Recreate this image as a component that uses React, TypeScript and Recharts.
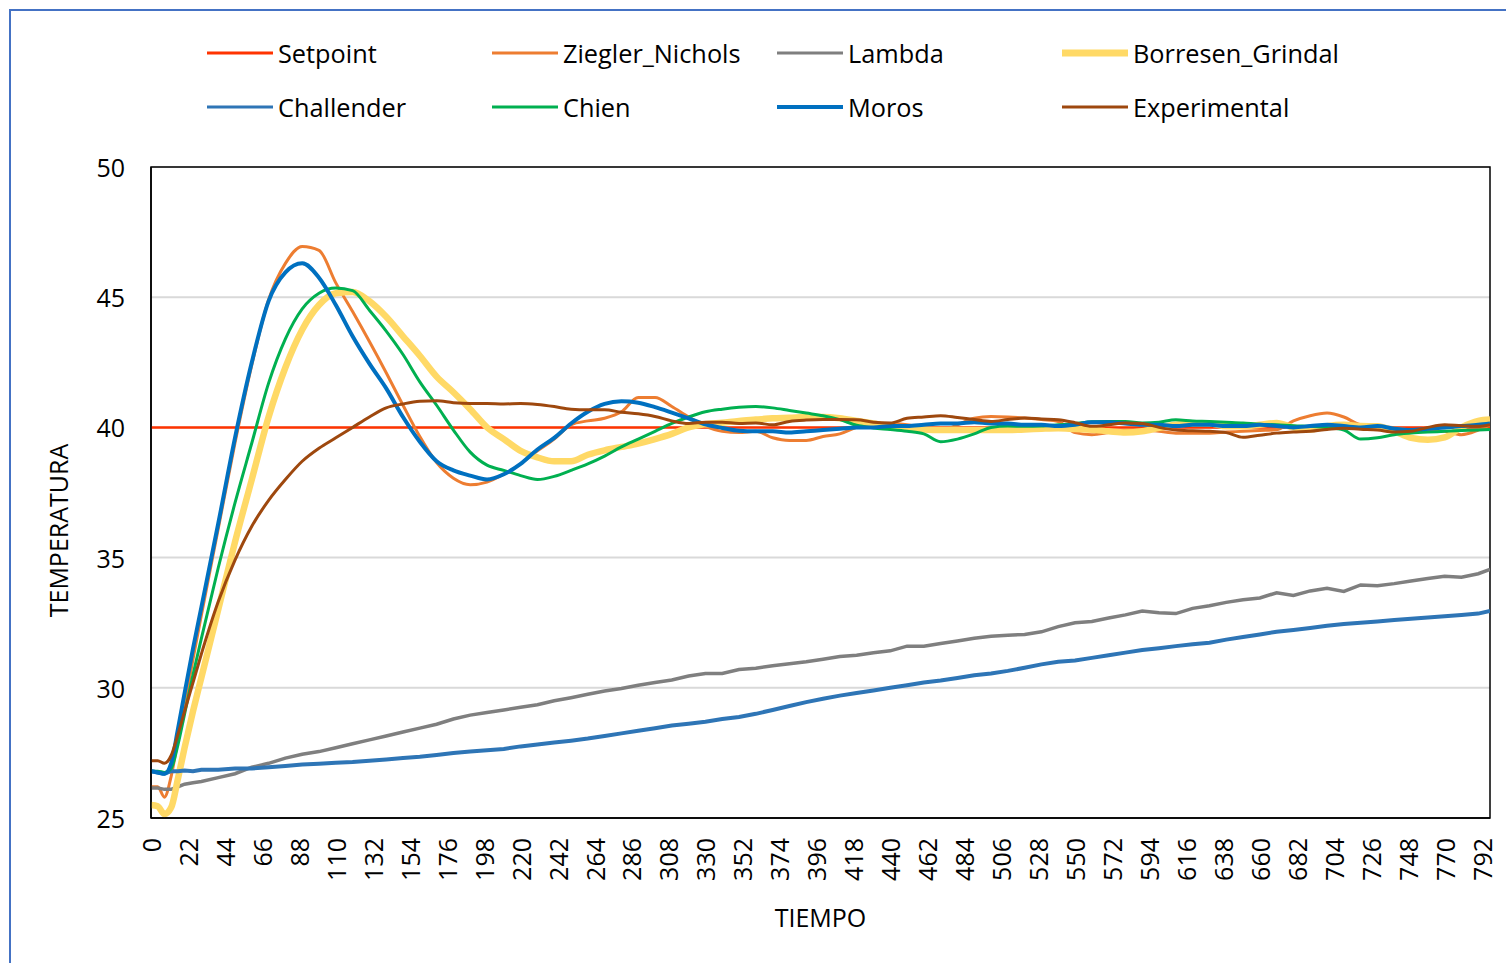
import React from 'react';
import { LineChart, Line, XAxis, YAxis, CartesianGrid, Legend, ReferenceArea } from 'recharts';

// ---------- DATA ----------
const times = [0, 4, 8, 12, 16, 20, 25, 30,
  40, 50, 60, 70, 80, 90, 100, 110, 120, 130,
  140, 150, 160, 170, 180, 190, 200, 210, 220, 230,
  240, 250, 260, 270, 280, 290, 300, 310, 320, 330,
  340, 350, 360, 370, 380, 390, 400, 410, 420, 430,
  440, 450, 460, 470, 480, 490, 500, 510, 520, 530,
  540, 550, 560, 570, 580, 590, 600, 610, 620, 630,
  640, 650, 660, 670, 680, 690, 700, 710, 720, 730,
  740, 750, 760, 770, 780, 790, 797];

const setpointTimes = [0, 797];
const setpointValues = [40, 40];

const zieglerNichols = [26.2, 26.2, 25.8, 26.6, 28.0, 29.3, 31.1, 32.8,
  36.1, 39.4, 42.4, 44.9, 46.3, 46.95, 46.8, 45.55, 44.45, 43.3,
  42.1, 40.85, 39.65, 38.65, 38.05, 37.8, 37.9, 38.2, 38.6, 39.1,
  39.55, 40.1, 40.25, 40.35, 40.6, 41.15, 41.15, 40.8, 40.4, 40.05,
  39.85, 39.8, 39.85, 39.6, 39.5, 39.5, 39.65, 39.75, 40.0, 40.1,
  40.15, 40.1, 39.97, 39.85, 40.1, 40.35, 40.42, 40.4, 40.36, 40.3,
  40.23, 39.8, 39.72, 39.8, 39.9, 39.91, 39.85, 39.78, 39.78, 39.78,
  39.82, 39.85, 39.88, 39.91, 40.25, 40.45, 40.55, 40.4, 40.1, 40.04,
  39.98, 39.9, 39.88, 39.85, 39.72, 39.9, 40.1];

const lambda = [26.15, 26.15, 26.1, 26.1, 26.2, 26.3, 26.35, 26.4,
  26.55, 26.7, 26.95, 27.1, 27.3, 27.45, 27.55, 27.7, 27.85, 28.0,
  28.15, 28.3, 28.45, 28.6, 28.8, 28.95, 29.05, 29.15, 29.25, 29.35,
  29.5, 29.62, 29.75, 29.88, 29.97, 30.1, 30.2, 30.3, 30.45, 30.55,
  30.55, 30.7, 30.75, 30.85, 30.92, 31.0, 31.1, 31.2, 31.25, 31.35,
  31.42, 31.6, 31.6, 31.7, 31.8, 31.9, 31.98, 32.02, 32.05, 32.15,
  32.35, 32.5, 32.55, 32.68, 32.8, 32.95, 32.88, 32.85, 33.05, 33.15,
  33.28, 33.38, 33.45, 33.65, 33.55, 33.72, 33.82, 33.7, 33.95, 33.92,
  34.0, 34.1, 34.2, 34.28, 34.25, 34.38, 34.55];

const borresenGrindal = [25.5, 25.45, 25.15, 25.4, 26.5, 27.7, 29.1, 30.4,
  33.0, 35.6, 38.0, 40.4, 42.3, 43.75, 44.7, 45.15, 45.2, 44.85,
  44.25, 43.5, 42.75, 41.95, 41.35, 40.7, 40.0, 39.55, 39.1, 38.85,
  38.7, 38.7, 38.95, 39.12, 39.25, 39.38, 39.55, 39.75, 40.0, 40.12,
  40.18, 40.25, 40.3, 40.35, 40.37, 40.4, 40.4, 40.35, 40.25, 40.15,
  40.05, 39.97, 39.92, 39.9, 39.9, 39.9, 39.9, 39.9, 39.92, 39.95,
  39.97, 39.94, 39.91, 39.85, 39.8, 39.85, 39.98, 40.1, 40.15, 40.15,
  40.04, 40.04, 40.1, 40.17, 40.0, 39.92, 40.05, 40.1, 40.05, 40.04,
  39.85, 39.6, 39.53, 39.62, 40.0, 40.25, 40.3];

const challender = [26.8, 26.75, 26.7, 26.8, 26.8, 26.82, 26.8, 26.85,
  26.85, 26.9, 26.9, 26.95, 27.0, 27.05, 27.08, 27.12, 27.15, 27.2,
  27.25, 27.3, 27.35, 27.42, 27.5, 27.55, 27.6, 27.65, 27.75, 27.82,
  27.9, 27.97, 28.05, 28.15, 28.25, 28.35, 28.45, 28.55, 28.62, 28.7,
  28.8, 28.88, 29.0, 29.15, 29.3, 29.45, 29.58, 29.7, 29.8, 29.9,
  30.0, 30.1, 30.2, 30.28, 30.38, 30.48, 30.55, 30.65, 30.77, 30.9,
  31.0, 31.05, 31.15, 31.25, 31.35, 31.45, 31.52, 31.6, 31.67, 31.73,
  31.85, 31.95, 32.05, 32.15, 32.22, 32.3, 32.38, 32.45, 32.5, 32.55,
  32.6, 32.65, 32.7, 32.75, 32.8, 32.85, 32.95];

const chien = [26.8, 26.8, 26.75, 26.9, 27.8, 29.0, 30.5, 31.9,
  34.6, 37.1, 39.4, 41.7, 43.4, 44.55, 45.15, 45.35, 45.25, 44.5,
  43.7, 42.8, 41.75, 40.85, 39.9, 39.05, 38.55, 38.35, 38.15, 38.0,
  38.12, 38.35, 38.6, 38.9, 39.25, 39.55, 39.85, 40.15, 40.4, 40.6,
  40.7, 40.77, 40.8, 40.75, 40.65, 40.55, 40.45, 40.3, 40.08, 39.98,
  39.92, 39.85, 39.75, 39.45, 39.55, 39.75, 40.0, 40.05, 40.04, 40.05,
  40.1, 40.15, 40.22, 40.23, 40.23, 40.17, 40.2, 40.29, 40.25, 40.23,
  40.2, 40.17, 40.12, 40.1, 40.06, 40.04, 40.0, 39.9, 39.55, 39.6,
  39.72, 39.78, 39.82, 39.85, 39.88, 39.9, 39.92];

const moros = [26.8, 26.75, 26.7, 27.1, 28.4, 29.8, 31.5, 33.1,
  36.3, 39.6, 42.5, 44.85, 45.95, 46.3, 45.75, 44.7, 43.5, 42.45,
  41.5, 40.4, 39.45, 38.7, 38.35, 38.15, 38.0, 38.2, 38.6, 39.15,
  39.6, 40.15, 40.6, 40.9, 41.0, 40.95, 40.78, 40.57, 40.35, 40.12,
  39.98, 39.87, 39.85, 39.85, 39.8, 39.85, 39.9, 39.95, 40.0, 40.0,
  40.05, 40.05, 40.1, 40.15, 40.15, 40.2, 40.15, 40.15, 40.1, 40.1,
  40.05, 40.1, 40.2, 40.2, 40.15, 40.1, 40.1, 40.05, 40.1, 40.1,
  40.05, 40.05, 40.1, 40.05, 40.0, 40.05, 40.1, 40.05, 40.0, 40.05,
  39.95, 39.9, 39.95, 40.0, 40.05, 40.1, 40.15];

const experimental = [27.2, 27.2, 27.1, 27.4, 28.2, 29.1, 30.2, 31.3,
  33.3, 34.9, 36.2, 37.2, 38.0, 38.7, 39.2, 39.6, 40.0, 40.4,
  40.75, 40.9, 41.0, 41.02, 40.95, 40.92, 40.92, 40.9, 40.92, 40.88,
  40.8, 40.7, 40.68, 40.68, 40.58, 40.52, 40.42, 40.25, 40.15, 40.2,
  40.2, 40.15, 40.17, 40.1, 40.23, 40.28, 40.3, 40.3, 40.29, 40.2,
  40.17, 40.35, 40.4, 40.45, 40.38, 40.3, 40.23, 40.3, 40.36, 40.32,
  40.29, 40.18, 40.04, 40.1, 40.17, 40.15, 40.0, 39.9, 39.87, 39.85,
  39.8, 39.62, 39.7, 39.78, 39.82, 39.85, 39.92, 39.97, 39.93, 39.9,
  39.82, 39.85, 40.0, 40.1, 40.06, 40.04, 40.1];

const xTicks = [0, 22, 44, 66, 88, 110, 132, 154, 176, 198, 220, 242, 264, 286,
  308, 330, 352, 374, 396, 418, 440, 462, 484, 506, 528, 550, 572, 594, 616,
  638, 660, 682, 704, 726, 748, 770, 792];
const yTicks = [25, 30, 35, 40, 45, 50];

const seriesNames = ['Setpoint', 'Ziegler_Nichols', 'Lambda', 'Borresen_Grindal',
  'Challender', 'Chien', 'Moros', 'Experimental'];

// ---------- BUILD ----------
const rows = times.map((t, i) => ({
  t,
  Ziegler_Nichols: zieglerNichols[i],
  Lambda: lambda[i],
  Borresen_Grindal: borresenGrindal[i],
  Challender: challender[i],
  Chien: chien[i],
  Moros: moros[i],
  Experimental: experimental[i],
}));
const setpointRows = setpointTimes.map((t, i) => ({ t, Setpoint: setpointValues[i] }));

const styles: Record<string, { color: string; width: number; legend: number; curve: 'linear' | 'monotone' }> = {
  Setpoint: { color: '#FF3300', width: 2.5, legend: 3, curve: 'linear' },
  Ziegler_Nichols: { color: '#ED7D31', width: 3, legend: 3, curve: 'monotone' },
  Lambda: { color: '#7F7F7F', width: 3.5, legend: 3, curve: 'linear' },
  Borresen_Grindal: { color: '#FFD966', width: 6.5, legend: 7, curve: 'monotone' },
  Challender: { color: '#2E75B6', width: 4, legend: 3, curve: 'linear' },
  Chien: { color: '#00B050', width: 3, legend: 3, curve: 'monotone' },
  Moros: { color: '#0070C0', width: 4, legend: 4, curve: 'monotone' },
  Experimental: { color: '#9E480E', width: 3, legend: 3, curve: 'monotone' },
};

const FONT = '"Open Sans", sans-serif';
const TEXT = '#000000';
const FS = 25;

const XTick = (props: any) => {
  const { x, y, payload } = props;
  return (
    <text x={x} y={y} transform={`rotate(-90 ${x} ${y})`} textAnchor="end"
      dominantBaseline="central" fontSize={FS} fill={TEXT} fontFamily={FONT}>
      {payload.value}
    </text>
  );
};

const YTick = (props: any) => {
  const { x, y, payload } = props;
  return (
    <text x={x} y={y} textAnchor="end" dominantBaseline="central"
      fontSize={FS} fill={TEXT} fontFamily={FONT}>
      {payload.value}
    </text>
  );
};

const renderLegend = () => (
  <div style={{ display: 'grid', gridTemplateColumns: 'repeat(4, 285px)', gridAutoRows: '54px', fontFamily: FONT }}>
    {seriesNames.map((n) => (
      <div key={n} style={{ display: 'flex', alignItems: 'center', height: 54 }}>
        <svg width={66} height={12} style={{ display: 'block' }}>
          <line x1={0} y1={6} x2={66} y2={6} stroke={styles[n].color} strokeWidth={styles[n].legend} />
        </svg>
        <span style={{ marginLeft: 5, fontSize: 25.3, color: TEXT, whiteSpace: 'nowrap' }}>{n}</span>
      </div>
    ))}
  </div>
);

export default function App() {
  const order = ['Ziegler_Nichols', 'Lambda', 'Borresen_Grindal', 'Challender', 'Chien', 'Moros', 'Experimental'];
  return (
    <div style={{ position: 'absolute', left: 0, top: 0, width: 1506, height: 963, overflow: 'hidden', background: '#fff' }}>
      <div style={{ position: 'absolute', left: 9, top: 9, width: 2000, height: 2000, borderLeft: '2px solid #4472C4', borderTop: '2px solid #4472C4' }} />
      <div style={{ position: 'absolute', left: 0, top: 0 }}>
        <LineChart width={1506} height={963} data={rows}
          margin={{ top: 167, right: 16, bottom: 45, left: 71 }}>
          <CartesianGrid vertical={false} stroke="#D9D9D9" strokeWidth={2} />
          <XAxis dataKey="t" type="number" domain={[0, 797]} ticks={xTicks} interval={0}
            allowDataOverflow tickLine={false} tickSize={0} tickMargin={20} height={100}
            axisLine={{ stroke: '#000', strokeWidth: 1.5 }} tick={<XTick />}
            label={{ value: 'TIEMPO', position: 'insideBottom', offset: -9, fontSize: FS, fill: TEXT, fontFamily: FONT }} />
          <YAxis type="number" domain={[25, 50]} ticks={yTicks} interval={0} width={80}
            tickLine={false} tickSize={0} tickMargin={26} tick={<YTick />}
            axisLine={{ stroke: '#000', strokeWidth: 1.5 }}
            label={{ value: 'TEMPERATURA', angle: -90, position: 'insideLeft', offset: -12, dy: 38, fontSize: FS, fill: TEXT, fontFamily: FONT, style: { textAnchor: 'middle' } }} />
          <ReferenceArea x1={0} x2={797} y1={25} y2={50} fill="none" fillOpacity={0}
            stroke="#000" strokeWidth={1.5} ifOverflow="visible" />
          <Legend layout="horizontal" verticalAlign="middle" align="center" content={renderLegend}
            wrapperStyle={{ left: 207, top: 26, width: 1200, height: 108 }} />
          <Line data={setpointRows} dataKey="Setpoint" name="Setpoint" type="linear" dot={false}
            stroke={styles.Setpoint.color} strokeWidth={styles.Setpoint.width} isAnimationActive={false} />
          {order.map((n) => (
            <Line key={n} dataKey={n} name={n} type={styles[n].curve} dot={false}
              stroke={styles[n].color} strokeWidth={styles[n].width} isAnimationActive={false} />
          ))}
        </LineChart>
      </div>
    </div>
  );
}
